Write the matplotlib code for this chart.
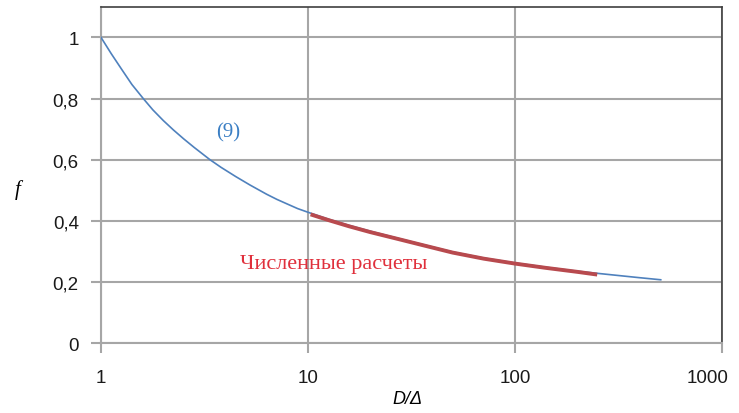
import matplotlib.pyplot as plt
import matplotlib.transforms as mtransforms
from matplotlib.ticker import FixedLocator, NullLocator

# formula (9), values
x_formula = [1, 1.12, 1.26, 1.41, 1.6, 1.78, 2.0, 2.24, 2.51, 2.82, 3.36, 3.8,
             4.47, 5.25, 6.31, 7.08, 7.94, 8.91, 10, 12.6, 15.8, 20, 27.8, 35.5,
             50, 70.8, 100, 141, 200, 251, 316, 398, 507]
f_formula = [1.0, 0.947, 0.895, 0.846, 0.8, 0.763, 0.728, 0.697, 0.668, 0.64,
             0.6, 0.575, 0.545, 0.517, 0.487, 0.47, 0.455, 0.44, 0.428, 0.405,
             0.385, 0.366, 0.341, 0.323, 0.298, 0.278, 0.262, 0.248, 0.235,
             0.228, 0.221, 0.214, 0.207]

# numerical results
x_numeric = [10.3, 12.6, 15.8, 20, 27.8, 35.5, 50, 70.8, 100, 141, 200, 250]
f_numeric = [0.421, 0.402, 0.382, 0.363, 0.339, 0.321, 0.296, 0.276, 0.26,
             0.246, 0.233, 0.224]

x_ticks = [1, 10, 100, 1000]
x_labels = ["1", "10", "100", "1000"]
y_ticks = [0, 0.2, 0.4, 0.6, 0.8, 1.0]
y_labels = ["0", "0,2", "0,4", "0,6", "0,8", "1"]

grid_color = "#a6a6a6"

fig = plt.figure(figsize=(7.39, 4.14), dpi=100)
ax = fig.add_axes([0.1367, 0.169, 0.840, 0.812])

ax.plot(x_formula, f_formula, color="#4f81bd", linewidth=1.2, zorder=3)
ax.plot(x_numeric, f_numeric, color="#b84a4e", linewidth=2.8, zorder=4,
        solid_capstyle="butt")

ax.set_xscale("log")
ax.set_xlim(1, 1000)
ax.set_ylim(0, 1.1)
ax.xaxis.set_major_locator(FixedLocator(x_ticks))
ax.xaxis.set_minor_locator(NullLocator())
ax.set_xticklabels(x_labels)
ax.set_yticks(y_ticks)
ax.set_yticklabels(y_labels)

ax.grid(True, color=grid_color, linewidth=1.5)
ax.set_axisbelow(True)
for side in ["left", "bottom"]:
    ax.spines[side].set_color(grid_color)
    ax.spines[side].set_linewidth(1.5)
for side in ["top", "right"]:
    ax.spines[side].set_color("#404040")
    ax.spines[side].set_linewidth(1.2)

ax.tick_params(axis="both", colors=grid_color, width=1.5, labelcolor="#1a1a1a",
               labelsize=13.5)
ax.tick_params(axis="y", length=7, pad=9)
ax.tick_params(axis="x", length=7, pad=12)
for lab in ax.get_xticklabels() + ax.get_yticklabels():
    lab.set_fontfamily("Liberation Sans")

# last x label sits a little left of its tick, as in the source
shift = mtransforms.ScaledTranslation(-10 / 72, 0, fig.dpi_scale_trans)
last_tick = ax.xaxis.get_major_ticks()[-1]
last_tick.label1.set_transform(last_tick.label1.get_transform() + shift)

ax.text(4.11, 0.69, "(9)", color="#3b7fc4", fontsize=15,
        family="Liberation Serif", ha="center", va="center")
ax.text(4.69, 0.259, "Численные расчеты", color="#e0303c", fontsize=16,
        family="Liberation Serif", ha="left", va="center")

fig.text(0.024, 0.541, "f", fontsize=15, style="italic",
         family="Liberation Serif", ha="center", va="center")
fig.text(0.551, 0.034, "D/Δ", fontsize=13, style="italic",
         family="Liberation Sans", ha="center", va="center")

fig.savefig("out.png", dpi=100)
